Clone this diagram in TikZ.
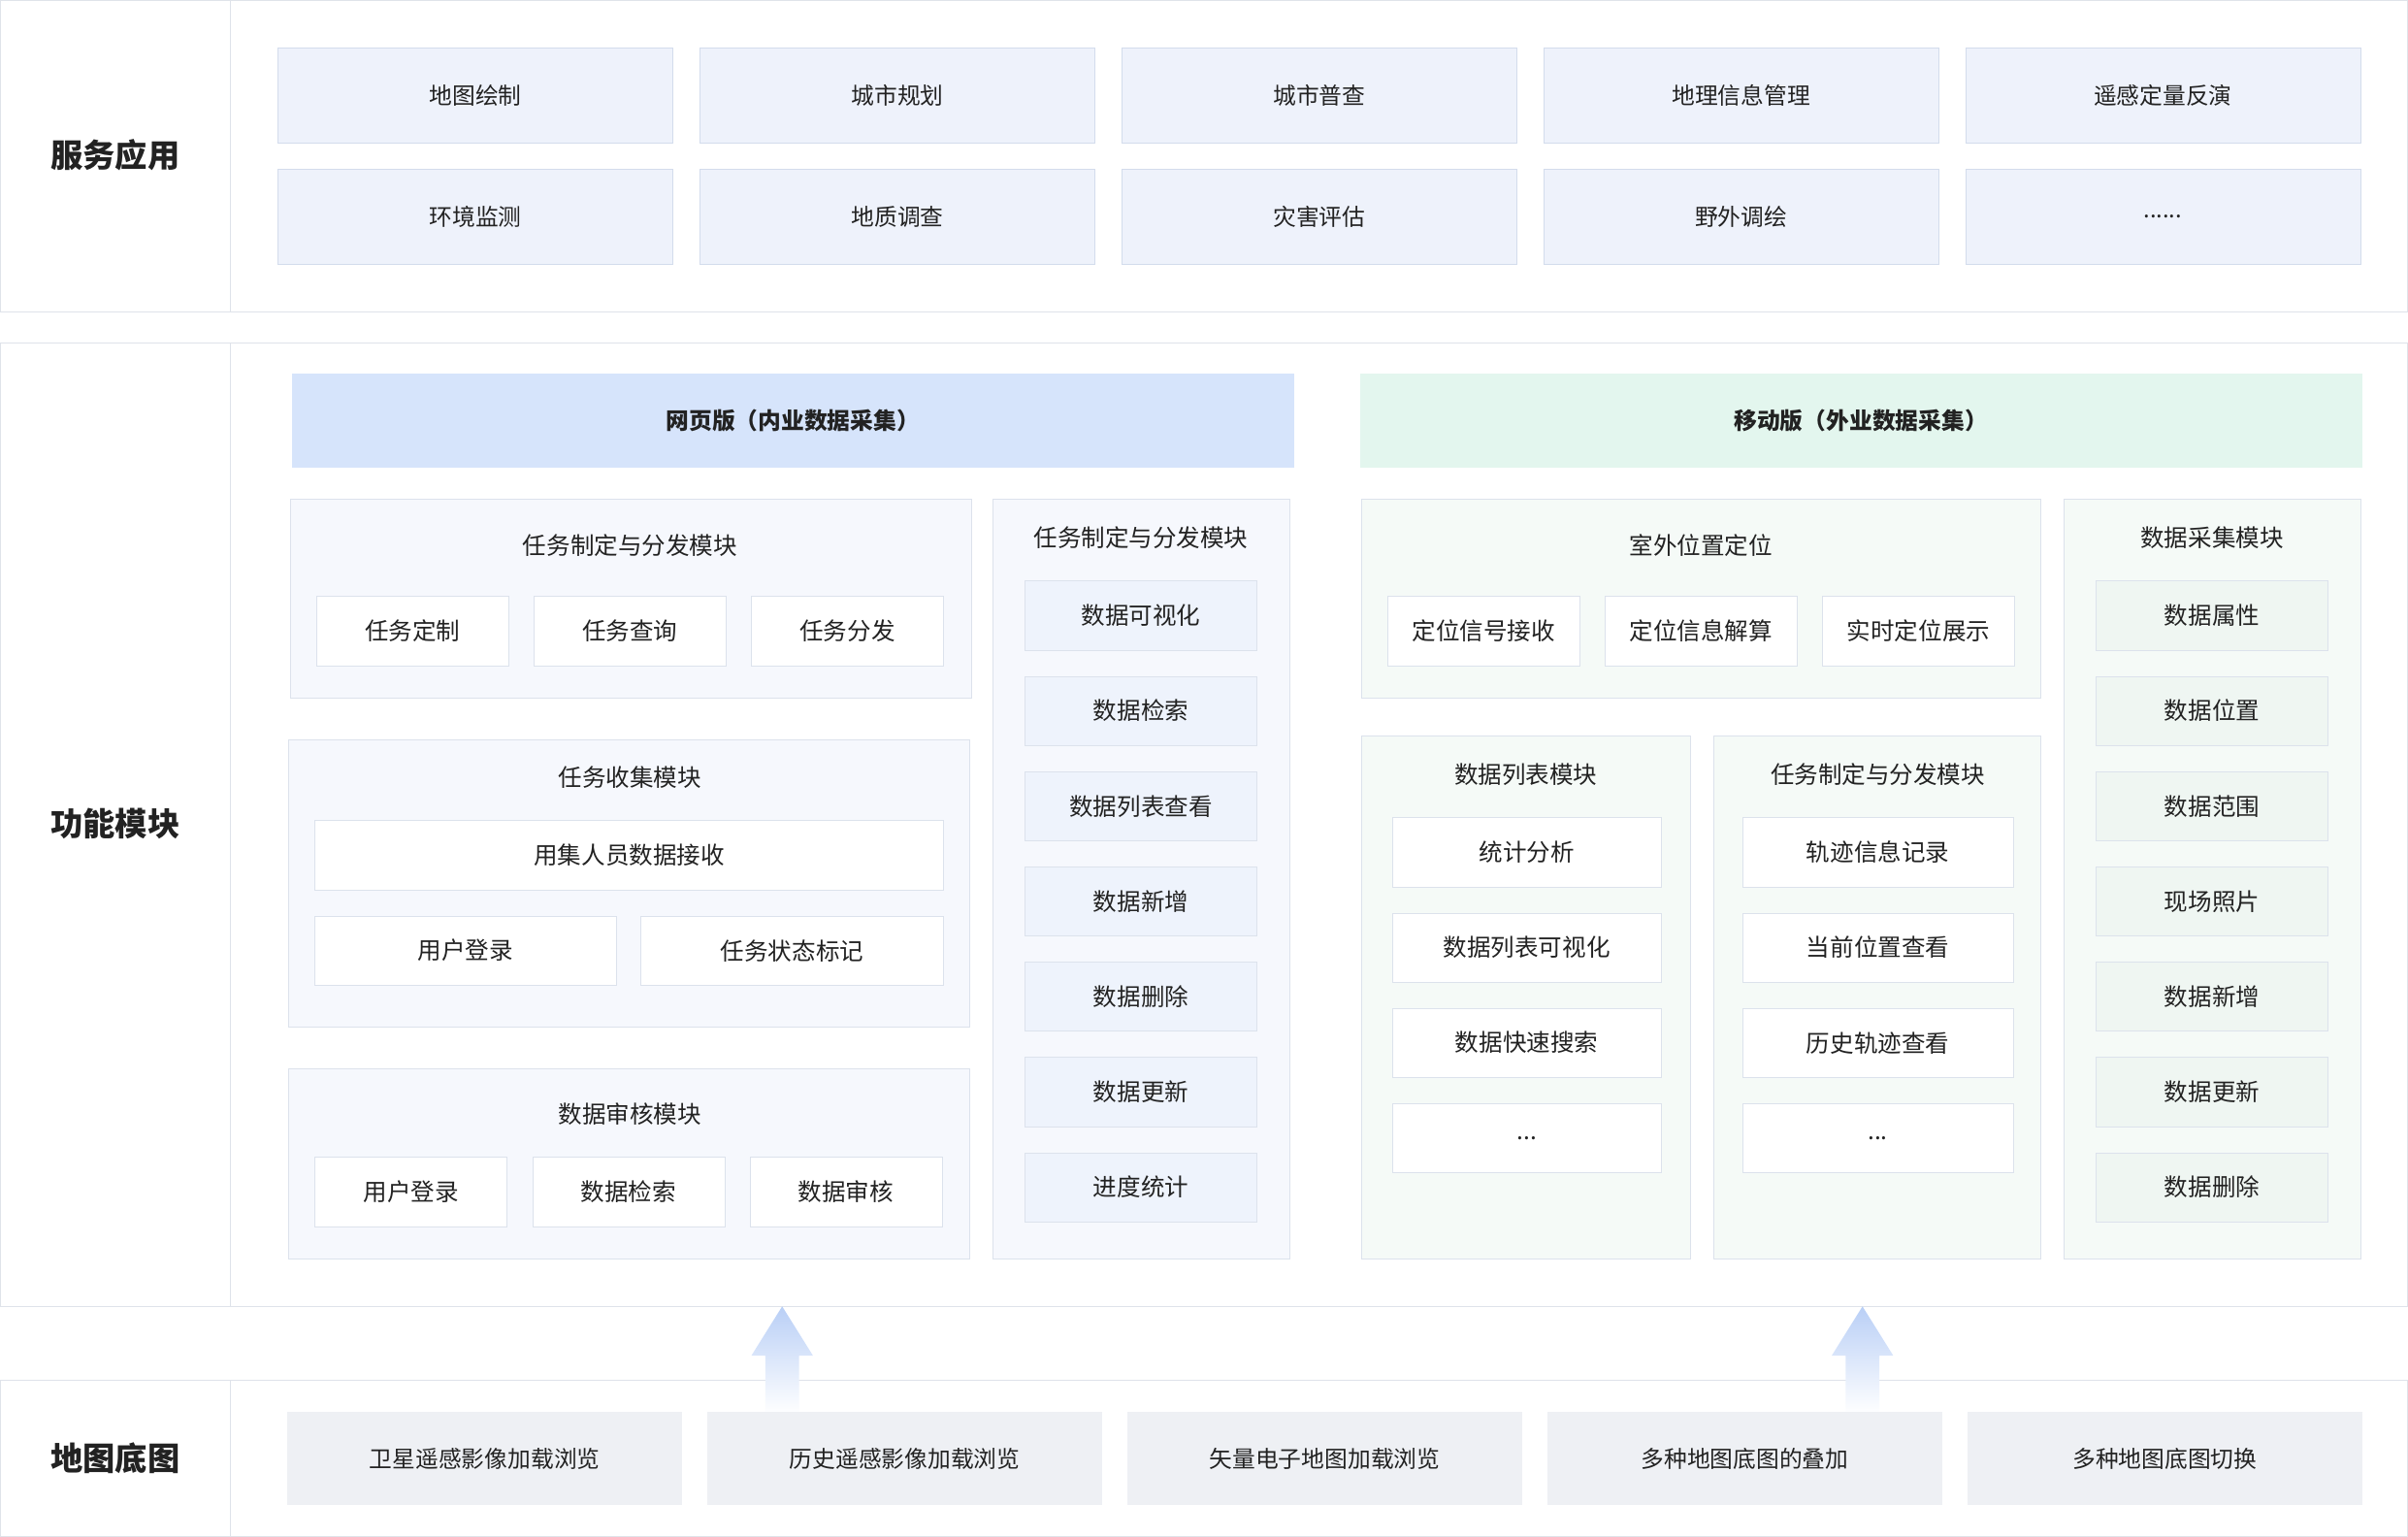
\documentclass[tikz,border=0pt]{standalone}
\usepackage{fontspec}
\setmainfont{Noto Sans CJK SC}
\usepackage{xcolor}
\usetikzlibrary{positioning}

\definecolor{bandline}{HTML}{DFE3EA}
\definecolor{svcfill}{HTML}{EEF2FB}
\definecolor{svcline}{HTML}{D3DCEC}
\definecolor{webhead}{HTML}{D6E4FB}
\definecolor{mobhead}{HTML}{E3F6EE}
\definecolor{webmod}{HTML}{F6F8FD}
\definecolor{mobmod}{HTML}{F5FAF7}
\definecolor{modline}{HTML}{DCE2EC}
\definecolor{webcell}{HTML}{EEF3FC}
\definecolor{mobcell}{HTML}{EFF6F2}
\definecolor{basefill}{HTML}{EEF0F4}
\definecolor{arrowtop}{HTML}{B9CFF6}
\definecolor{txt}{HTML}{222222}

\newcommand{\sixdots}{......}
\newcommand{\threedots}{...}

\tikzset{
  band/.style={draw=bandline, fill=white},
  bandlabel/.style={font=\fontsize{21}{21}\selectfont\bfseries, text=txt},
  svc/.style={draw=svcline, fill=svcfill, minimum width=257, minimum height=62, font=\fontsize{15}{15}\selectfont, text=txt},
  base/.style={fill=basefill, minimum width=257, minimum height=61, font=\fontsize{15}{15}\selectfont, text=txt},
  head/.style={minimum width=652, minimum height=61, font=\fontsize{15}{15}\selectfont\bfseries, text=txt},
  modtitle/.style={font=\fontsize{15.5}{15.5}\selectfont, text=txt},
  cell/.style={draw=modline, fill=white, minimum height=45, font=\fontsize{15.5}{15.5}\selectfont, text=txt},
  upflow/.style={top color=arrowtop, bottom color=white, draw=none}
}

\begin{document}
\begin{tikzpicture}[x=1pt,y=-1pt]
\useasboundingbox (0,0) rectangle (1567,1000);

% bands
\draw[band] (0.5,0.5) rectangle (1566.5,203);
\draw[band] (0.5,223) rectangle (1566.5,850);
\draw[band] (0.5,898) rectangle (1566.5,999.5);
\foreach \ya/\yb in {0.5/203, 223/850, 898/999.5}
  \draw[bandline] (150,\ya) -- (150,\yb);
\node[bandlabel] (lsvc) at (75,101) {服务应用};
\node[bandlabel] (lfun) at (75,536) {功能模块};
\node[bandlabel] (lmap) at (75,949) {地图底图};

% service row
\foreach \t [count=\i] in {地图绘制,城市规划,城市普查,地理信息管理,遥感定量反演}
  \node[svc] (sa\i) at ({309.5+274.5*(\i-1)},62) {\t};
\foreach \t [count=\i] in {环境监测,地质调查,灾害评估,野外调绘,\sixdots}
  \node[svc] (sb\i) at ({309.5+274.5*(\i-1)},141) {\t};

% headers
\node[head, fill=webhead] (hweb) at (516,273.5) {网页版（内业数据采集）};
\node[head, fill=mobhead] (hmob) at (1211,273.5) {移动版（外业数据采集）};

% web modules
\draw[draw=modline, fill=webmod] (189,325) rectangle (632,454);
\node[modtitle] (wa) at (410,355) {任务制定与分发模块};
\foreach \t [count=\i] in {任务定制,任务查询,任务分发}
  \node[cell, minimum width=125] (wa\i) at ({268.5+141.5*(\i-1)},410.5) {\t};

\draw[draw=modline, fill=webmod] (188,481) rectangle (631,668);
\node[modtitle] (wb) at (410,506) {任务收集模块};
\node[cell, minimum width=409] (wb1) at (409.5,556.5) {用集人员数据接收};
\node[cell, minimum width=196] (wb2) at (303,618.5) {用户登录};
\node[cell, minimum width=197] (wb3) at (515.5,618.5) {任务状态标记};

\draw[draw=modline, fill=webmod] (188,695) rectangle (631,819);
\node[modtitle] (wc) at (410,725) {数据审核模块};
\foreach \t [count=\i] in {用户登录,数据检索,数据审核}
  \node[cell, minimum width=125] (wc\i) at ({267.5+141.5*(\i-1)},775.5) {\t};

\draw[draw=modline, fill=webmod] (646,325) rectangle (839,819);
\node[modtitle] (wd) at (742.5,350) {任务制定与分发模块};
\foreach \t [count=\i] in {数据可视化,数据检索,数据列表查看,数据新增,数据删除,数据更新,进度统计}
  \node[cell, fill=webcell, minimum width=151] (wd\i) at (742.5,{400.5+62*(\i-1)}) {\t};

% mobile modules
\draw[draw=modline, fill=mobmod] (886,325) rectangle (1328,454);
\node[modtitle] (ma) at (1107,355) {室外位置定位};
\foreach \t [count=\i] in {定位信号接收,定位信息解算,实时定位展示}
  \node[cell, minimum width=125] (ma\i) at ({965.5+141.5*(\i-1)},410.5) {\t};

\draw[draw=modline, fill=mobmod] (886,479) rectangle (1100,819);
\node[modtitle] (mb) at (993,504) {数据列表模块};
\foreach \t [count=\i] in {统计分析,数据列表可视化,数据快速搜索,\threedots}
  \node[cell, minimum width=175] (mb\i) at (993.5,{554.5+62*(\i-1)}) {\t};

\draw[draw=modline, fill=mobmod] (1115,479) rectangle (1328,819);
\node[modtitle] (mc) at (1222,504) {任务制定与分发模块};
\foreach \t [count=\i] in {轨迹信息记录,当前位置查看,历史轨迹查看,\threedots}
  \node[cell, minimum width=176] (mc\i) at (1222,{554.5+62*(\i-1)}) {\t};

\draw[draw=modline, fill=mobmod] (1343,325) rectangle (1536,819);
\node[modtitle] (md) at (1439.5,350) {数据采集模块};
\foreach \t [count=\i] in {数据属性,数据位置,数据范围,现场照片,数据新增,数据更新,数据删除}
  \node[cell, fill=mobcell, minimum width=151] (md\i) at (1439.5,{400.5+62*(\i-1)}) {\t};

% up arrows
\foreach \x in {509,1212}
  \shade[upflow] (\x,850) -- (\x+20,882) -- (\x+11,882) -- (\x+11,920)
    -- (\x-11,920) -- (\x-11,882) -- (\x-20,882) -- cycle;

% base maps
\foreach \t [count=\i] in {卫星遥感影像加载浏览,历史遥感影像加载浏览,矢量电子地图加载浏览,多种地图底图的叠加,多种地图底图切换}
  \node[base] (bm\i) at ({315.5+273.3*(\i-1)},949) {\t};
\end{tikzpicture}
\end{document}
